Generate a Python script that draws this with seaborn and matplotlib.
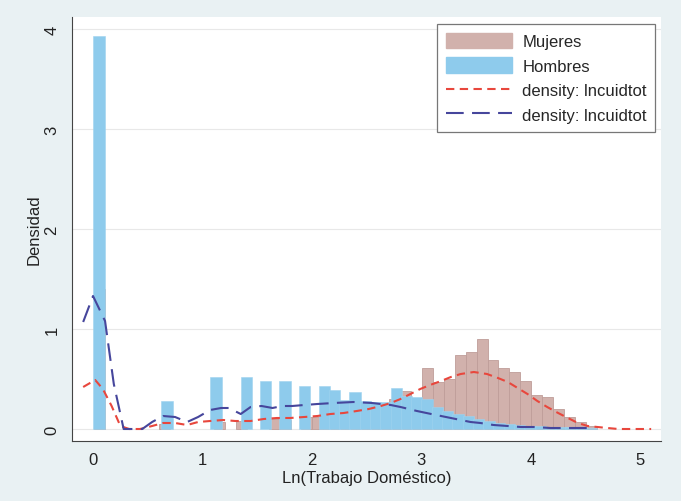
import numpy as np
import pandas as pd
import matplotlib
matplotlib.use("Agg")
import matplotlib.pyplot as plt
import seaborn as sns
from matplotlib.patches import Patch
from matplotlib.lines import Line2D

# ---------------- data ----------------
# Histogram of Mujeres: bin centres (Ln hours) and densities
muj_x = [0.055, 0.655, 1.155, 1.355, 1.655, 1.755, 1.955, 2.055, 2.155, 2.255,
         2.355, 2.455, 2.555, 2.655, 2.755, 2.855, 2.955, 3.055, 3.155, 3.255,
         3.355, 3.455, 3.555, 3.655, 3.755, 3.855, 3.955, 4.055, 4.155, 4.255,
         4.355, 4.455, 4.555]
muj_h = [1.40, 0.05, 0.07, 0.08, 0.10, 0.09, 0.12, 0.12, 0.12, 0.13,
         0.18, 0.16, 0.20, 0.24, 0.30, 0.38, 0.30, 0.61, 0.47, 0.50,
         0.74, 0.77, 0.90, 0.69, 0.61, 0.57, 0.48, 0.34, 0.32, 0.20,
         0.12, 0.07, 0.03]

# Histogram of Hombres
hom_x = [0.055, 0.677, 1.125, 1.400, 1.575, 1.753, 1.930, 2.113, 2.207, 2.301,
         2.395, 2.489, 2.583, 2.677, 2.771, 2.865, 2.959, 3.053, 3.147, 3.241,
         3.335, 3.429, 3.523, 3.617, 3.711, 3.805, 3.899, 3.993, 4.087, 4.181,
         4.275, 4.369, 4.463, 4.557]
hom_h = [3.93, 0.28, 0.52, 0.52, 0.48, 0.48, 0.43, 0.43, 0.39, 0.29,
         0.37, 0.28, 0.27, 0.27, 0.41, 0.33, 0.32, 0.30, 0.22, 0.18,
         0.15, 0.13, 0.10, 0.08, 0.06, 0.05, 0.04, 0.03, 0.03, 0.02,
         0.02, 0.02, 0.02, 0.01]

# Kernel density, Mujeres
kd_m_x = [-0.09, 0.02, 0.09, 0.17, 0.25, 0.33, 0.43, 0.54, 0.64, 0.75, 0.86, 0.96,
          1.07, 1.19, 1.30, 1.44, 1.56, 1.68, 1.80, 1.93, 2.05, 2.17, 2.29, 2.41,
          2.52, 2.63, 2.72, 2.81, 2.90, 2.99, 3.08, 3.18, 3.27, 3.36, 3.48, 3.60,
          3.70, 3.79, 3.88, 3.97, 4.06, 4.15, 4.25, 4.34, 4.43, 4.52, 4.61, 4.70,
          4.80, 4.90, 5.00, 5.10]
kd_m_y = [0.42, 0.49, 0.40, 0.23, 0.03, 0.00, 0.00, 0.03, 0.06, 0.06, 0.04, 0.07,
          0.08, 0.09, 0.08, 0.08, 0.10, 0.11, 0.11, 0.12, 0.13, 0.15, 0.16, 0.18,
          0.20, 0.23, 0.26, 0.30, 0.35, 0.40, 0.44, 0.48, 0.52, 0.55, 0.57, 0.55,
          0.51, 0.47, 0.41, 0.35, 0.28, 0.22, 0.16, 0.11, 0.06, 0.03, 0.02, 0.01,
          0.00, 0.00, 0.00, 0.00]

# Kernel density, Hombres
kd_h_x = [-0.09, 0.00, 0.11, 0.19, 0.28, 0.37, 0.45, 0.54, 0.64, 0.75, 0.86, 0.96,
          1.07, 1.17, 1.24, 1.35, 1.44, 1.54, 1.64, 1.73, 1.82, 1.93, 2.05, 2.20,
          2.38, 2.55, 2.63, 2.72, 2.81, 2.96, 3.09, 3.18, 3.27, 3.36, 3.45, 3.54,
          3.66, 3.79, 3.91, 4.03, 4.18, 4.34, 4.58]
kd_h_y = [1.07, 1.33, 1.08, 0.45, 0.00, 0.00, 0.00, 0.07, 0.13, 0.12, 0.07, 0.12,
          0.19, 0.21, 0.21, 0.15, 0.22, 0.23, 0.21, 0.23, 0.23, 0.24, 0.25, 0.26,
          0.27, 0.26, 0.25, 0.24, 0.22, 0.18, 0.15, 0.13, 0.11, 0.09, 0.07, 0.06,
          0.04, 0.03, 0.02, 0.02, 0.01, 0.01, 0.01]

x_ticks = [0, 1, 2, 3, 4, 5]
y_ticks = [0, 1, 2, 3, 4]
legend_labels = ["Mujeres", "Hombres", "density: lncuidtot", "density: lncuidtot"]

# ---------------- style ----------------
sns.set_theme(style="white")
plt.rcParams["font.family"] = ["Liberation Sans", "DejaVu Sans"]
plt.rcParams["font.size"] = 12

PINK = "#d1b1ac"
PINK_EDGE = "#bf9d99"
BLUE = "#8ecbec"
BLUE_EDGE = "#9fd3ef"
RED = "#e8473d"
NAVY = "#46469c"
BG = "#e9f1f3"

fig = plt.figure(figsize=(6.81, 5.02), dpi=100, facecolor=BG)
ax = fig.add_axes([72 / 681, 60 / 502, 589 / 681, 424 / 502])
ax.set_facecolor("white")

df_m = pd.DataFrame({"x": muj_x, "h": muj_h})
df_h = pd.DataFrame({"x": hom_x, "h": hom_h})

sns.barplot(data=df_m, x="x", y="h", native_scale=True, orient="x", width=1.0,
            color=PINK, saturation=1, edgecolor=PINK_EDGE, linewidth=0.6,
            errorbar=None, ax=ax, zorder=2)
sns.barplot(data=df_h, x="x", y="h", native_scale=True, orient="x", width=1.1,
            color=BLUE, saturation=1, edgecolor=BLUE_EDGE, linewidth=0.4,
            errorbar=None, ax=ax, zorder=3)

sns.lineplot(x=kd_m_x, y=kd_m_y, sort=False, estimator=None, color=RED,
             linewidth=1.5, linestyle=(0, (4, 2.6)), ax=ax, zorder=4)
sns.lineplot(x=kd_h_x, y=kd_h_y, sort=False, estimator=None, color=NAVY,
             linewidth=1.5, linestyle=(0, (8.5, 4)), ax=ax, zorder=5)

# ---------------- axes ----------------
ax.set_xlim(-0.192, 5.19)
ax.set_ylim(-0.12, 4.12)
ax.set_xticks(x_ticks)
ax.set_yticks(y_ticks)
ax.set_xticklabels([str(t) for t in x_ticks])
ax.set_yticklabels([str(t) for t in y_ticks])
ax.yaxis.grid(True, color="#e8e8e8", linewidth=0.8)
ax.xaxis.grid(False)
ax.set_axisbelow(True)

for s in ["top", "right"]:
    ax.spines[s].set_visible(False)
for s in ["left", "bottom"]:
    ax.spines[s].set_color("#444444")
    ax.spines[s].set_linewidth(0.8)

ax.tick_params(axis="both", direction="out", length=4, width=0.8,
               color="#444444", labelsize=12, labelcolor="#222222")
ax.tick_params(axis="x", pad=4)
ax.tick_params(axis="y", pad=5, labelrotation=90)
for lab in ax.get_yticklabels():
    lab.set_va("center")

ax.set_xlabel("Ln(Trabajo Doméstico)", fontsize=12, color="#222222", labelpad=2)
ax.set_ylabel("Densidad", fontsize=12, color="#222222", labelpad=2)

handles = [
    Patch(facecolor=PINK, edgecolor=PINK),
    Patch(facecolor=BLUE, edgecolor=BLUE),
    Line2D([0], [0], color=RED, lw=1.5, linestyle=(0, (4, 2.6))),
    Line2D([0], [0], color=NAVY, lw=1.5, linestyle=(0, (8.5, 4))),
]
leg = ax.legend(handles, legend_labels, loc="upper right",
                bbox_to_anchor=(0.99, 0.983), borderaxespad=0,
                frameon=True, fancybox=False, edgecolor="#777777",
                framealpha=1, fontsize=12, handlelength=4.0,
                handleheight=1.05, labelspacing=0.5, handletextpad=0.6,
                borderpad=0.5)
leg.get_frame().set_linewidth(0.9)

fig.savefig("out.png", dpi=100, facecolor=BG)
